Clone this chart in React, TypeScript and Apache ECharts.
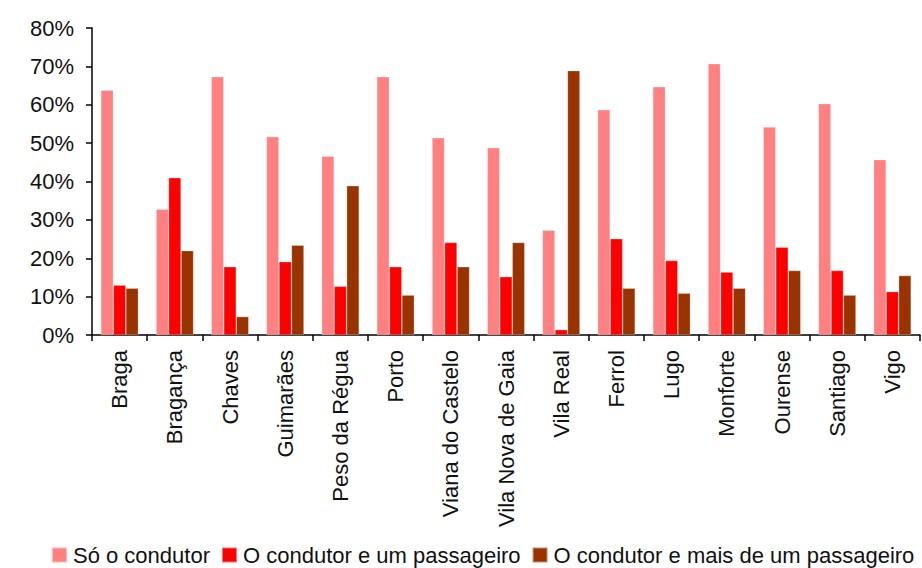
import React, { useEffect, useRef } from "react";
import * as echarts from "echarts";

const categories = [
  "Braga", "Bragança", "Chaves", "Guimarães", "Peso da Régua", "Porto",
  "Viana do Castelo", "Vila Nova de Gaia", "Vila Real", "Ferrol", "Lugo",
  "Monforte", "Ourense", "Santiago", "Vigo",
];
const soCondutor = [63.8, 32.8, 67.3, 51.7, 46.6, 67.3, 51.4, 48.8, 27.3, 58.7, 64.7, 70.7, 54.2, 60.3, 45.7];
const umPassageiro = [13.0, 41.0, 17.8, 19.1, 12.7, 17.8, 24.1, 15.2, 1.4, 25.1, 19.4, 16.4, 22.9, 16.8, 11.3];
const maisPassageiros = [12.2, 22.0, 4.8, 23.4, 38.9, 10.4, 17.8, 24.1, 68.9, 12.2, 10.9, 12.2, 16.8, 10.4, 15.5];
const seriesNames = [
  "Só o condutor",
  "O condutor e um passageiro",
  "O condutor e mais de um passageiro",
];
const colors = ["#FF8080", "#FF0000", "#993300"];

const FONT = "'Liberation Sans', Arial, sans-serif";

export default function App() {
  const ref = useRef<HTMLDivElement>(null);
  useEffect(() => {
    if (!ref.current) return;
    const chart = echarts.init(ref.current, undefined, { renderer: "svg" });
    const data = [soCondutor, umPassageiro, maisPassageiros];
    chart.setOption({
      animation: false,
      backgroundColor: "#ffffff",
      textStyle: { fontFamily: FONT },
      grid: { left: 92, right: 2, top: 28, bottom: 233, containLabel: false },
      legend: {
        top: 544,
        left: 51,
        width: 1000,
        itemWidth: 15,
        itemHeight: 15,
        itemGap: 11,
        padding: 0,
        icon: "rect",
        textStyle: { fontSize: 22, color: "#111", fontFamily: FONT, padding: [0, 0, 0, 1] },
        data: seriesNames,
      },
      xAxis: {
        type: "category",
        data: categories,
        axisLine: { lineStyle: { color: "#000", width: 1.5 } },
        axisTick: { show: true, length: 6, lineStyle: { color: "#000", width: 1.5 } },
        axisLabel: {
          rotate: 90,
          interval: 0,
          margin: 15,
          fontSize: 22,
          color: "#111",
          fontFamily: FONT,
        },
        splitLine: { show: false },
      },
      yAxis: {
        type: "value",
        min: 0,
        max: 80,
        interval: 10,
        axisLine: { show: true, lineStyle: { color: "#000", width: 1.5 } },
        axisTick: { show: true, length: 6, lineStyle: { color: "#000", width: 1.5 } },
        axisLabel: {
          formatter: "{value}%",
          margin: 18,
          fontSize: 22,
          color: "#111",
          fontFamily: FONT,
        },
        splitLine: { show: false },
      },
      series: seriesNames.map((name, i) => ({
        name,
        type: "bar",
        data: data[i],
        barGap: "0%",
        barCategoryGap: "32%",
        itemStyle: {
          color: colors[i],
          borderColor: "rgba(255,255,255,0.45)",
          borderWidth: 0.6,
        },
      })),
    });
    return () => chart.dispose();
  }, []);
  return (
    <div
      ref={ref}
      style={{ position: "fixed", left: 0, top: 0, width: 922, height: 568 }}
    />
  );
}
